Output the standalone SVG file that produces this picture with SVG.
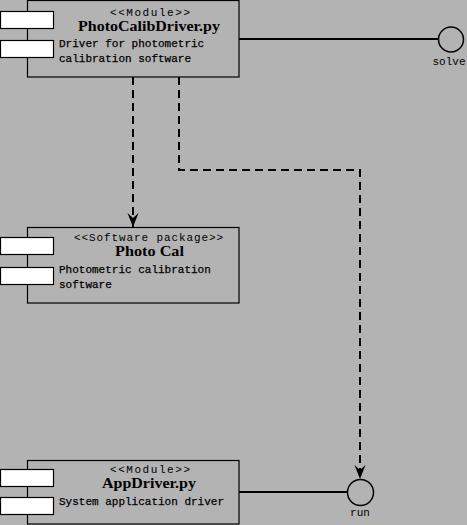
<svg xmlns="http://www.w3.org/2000/svg" width="467" height="525" viewBox="0 0 467 525">
<defs>
<style>
.box{fill:#b3b3b3;stroke:#000;stroke-width:1.2}
.port{fill:#fff;stroke:#000;stroke-width:1.2}
.st{font-family:"Liberation Mono","DejaVu Sans Mono",monospace;font-size:11px;text-anchor:middle;fill:#000}
.ti{font-family:"Liberation Serif","DejaVu Serif",serif;font-size:15px;font-weight:bold;text-anchor:middle;fill:#000}
.ds{font-family:"Liberation Mono","DejaVu Sans Mono",monospace;font-size:11px;fill:#000;stroke:#000;stroke-width:0.25}
.lbl{font-family:"Liberation Mono","DejaVu Sans Mono",monospace;font-size:11px;text-anchor:middle;fill:#000}
.solid{fill:none;stroke:#000;stroke-width:2}
.dash{fill:none;stroke:#000;stroke-width:2;stroke-dasharray:8 5}
.iface{fill:#b3b3b3;stroke:#000;stroke-width:1.5}
</style>
<marker id="arr" viewBox="-15 -7 16 14" refX="0" refY="0" markerWidth="16" markerHeight="14" markerUnits="userSpaceOnUse" orient="auto">
<path d="M0,0 L-14,-5.5 L-9,0 L-14,5.5 Z" fill="#000"/>
</marker>
</defs>
<rect x="0" y="0" width="467" height="525" fill="#b3b3b3"/>
<g id="connectors">
<line class="solid" x1="239" y1="39" x2="438" y2="39"/>
<line class="solid" x1="239" y1="492" x2="347" y2="492"/>
<path class="dash" d="M133,77 L133,227" marker-end="url(#arr)"/>
<path class="dash" d="M179,77 L179,170 L360,170 L360,479" marker-end="url(#arr)"/>
</g>
<g id="PhotoCalibDriver">
<rect class="box" x="27.5" y="0.5" width="211.5" height="76.5"/>
<rect class="port" x="0.5" y="11.5" width="53" height="17"/>
<rect class="port" x="0.5" y="40.5" width="53" height="17"/>
<text class="st" x="150" y="16" textLength="80" lengthAdjust="spacing">&lt;&lt;Module&gt;&gt;</text>
<text class="ti" x="149" y="31" textLength="142" lengthAdjust="spacingAndGlyphs">PhotoCalibDriver.py</text>
<text class="ds" x="59" y="47">Driver for photometric</text>
<text class="ds" x="59" y="62">calibration software</text>
</g>
<g id="solve">
<circle class="iface" cx="451" cy="39.5" r="12.5"/>
<text class="lbl" x="449" y="65">solve</text>
</g>
<g id="PhotoCal">
<rect class="box" x="27.5" y="227.5" width="211.5" height="75.5"/>
<rect class="port" x="0.5" y="237.5" width="53" height="17"/>
<rect class="port" x="0.5" y="267.5" width="53" height="17"/>
<text class="st" x="148.5" y="241" textLength="149" lengthAdjust="spacing">&lt;&lt;Software package&gt;&gt;</text>
<text class="ti" x="149.5" y="256" textLength="69" lengthAdjust="spacingAndGlyphs">Photo Cal</text>
<text class="ds" x="59" y="273">Photometric calibration</text>
<text class="ds" x="59" y="288">software</text>
</g>
<g id="AppDriver">
<rect class="box" x="27.5" y="460.5" width="211.5" height="63.5"/>
<rect class="port" x="0.5" y="469.5" width="53" height="17"/>
<rect class="port" x="0.5" y="497.5" width="53" height="17"/>
<text class="st" x="150" y="473" textLength="80" lengthAdjust="spacing">&lt;&lt;Module&gt;&gt;</text>
<text class="ti" x="149" y="488" textLength="94" lengthAdjust="spacingAndGlyphs">AppDriver.py</text>
<text class="ds" x="59" y="505">System application driver</text>
</g>
<g id="run">
<circle class="iface" cx="360.5" cy="492.5" r="13"/>
<text class="lbl" x="360" y="516">run</text>
</g>
</svg>
